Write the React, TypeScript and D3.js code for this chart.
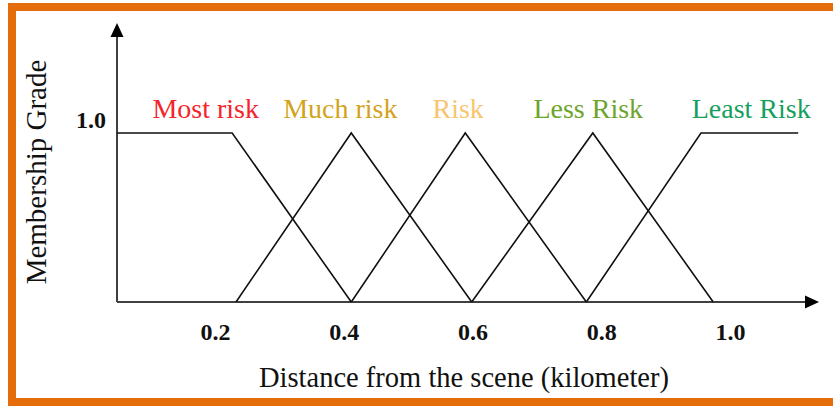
import React from "react";
import * as d3 from "d3";

// Membership functions (x in km, y = membership grade)
const seriesNames = ["Most risk", "Much risk", "Risk", "Less Risk", "Least Risk"];
const seriesColors = ["#f5232a", "#d3a31a", "#f8c56f", "#6da42c", "#17a05d"];
const mostRisk: [number, number][] = [[0.047, 1], [0.226, 1], [0.411, 0]];
const muchRisk: [number, number][] = [[0.232, 0], [0.411, 1], [0.598, 0]];
const risk: [number, number][] = [[0.411, 0], [0.588, 1], [0.776, 0]];
const lessRisk: [number, number][] = [[0.598, 0], [0.786, 1], [0.973, 0]];
const leastRisk: [number, number][] = [[0.776, 0], [0.954, 1], [1.105, 1]];
const labelAt = [0.185, 0.394, 0.577, 0.779, 1.032];
const xTicks = [0.2, 0.4, 0.6, 0.8, 1.0];
const yTicks = [1.0];

const W = 833;
const H = 406;

export default function App() {
  const x = d3.scaleLinear().domain([0, 1]).range([86.6, 730.6]);
  const y = d3.scaleLinear().domain([0, 1]).range([302, 133]);
  const line = d3
    .line<[number, number]>()
    .x((d) => x(d[0]))
    .y((d) => y(d[1]));
  const all = [mostRisk, muchRisk, risk, lessRisk, leastRisk];
  const font = "'Liberation Serif', 'Times New Roman', serif";
  const axisX0 = 117;
  const axisXEnd = 819;
  const axisYTop = 23;
  return (
    <svg
      width={W}
      height={H}
      style={{ position: "absolute", left: 0, top: 0, background: "#fff" }}
      fontFamily={font}
    >
      <rect x={0} y={0} width={W} height={H} fill="#fff" />
      <rect x={12} y={7} width={850} height={395} fill="none" stroke="#e46c0a" strokeWidth={8} />
      {/* axes */}
      <line x1={axisX0} y1={y(0)} x2={axisXEnd - 12} y2={y(0)} stroke="#404040" strokeWidth={2} />
      <path d={`M${axisXEnd},${y(0)} L${axisXEnd - 14},${y(0) - 6.5} L${axisXEnd - 14},${y(0) + 6.5} Z`} fill="#000" />
      <line x1={axisX0} y1={y(0)} x2={axisX0} y2={axisYTop + 12} stroke="#404040" strokeWidth={2} />
      <path d={`M${axisX0},${axisYTop} L${axisX0 - 6.5},${axisYTop + 14} L${axisX0 + 6.5},${axisYTop + 14} Z`} fill="#000" />
      {/* membership lines */}
      {all.map((s, i) => (
        <path key={i} d={line(s) || ""} fill="none" stroke="#111" strokeWidth={1.6} />
      ))}
      {/* series labels */}
      {seriesNames.map((n, i) => (
        <text key={n} x={x(labelAt[i])} y={118} textAnchor="middle" fontSize={28} fill={seriesColors[i]}>
          {n}
        </text>
      ))}
      {/* ticks */}
      {xTicks.map((t) => (
        <text key={t} x={x(t)} y={340} textAnchor="middle" fontSize={24} fontWeight="bold" fill="#111">
          {t.toFixed(1)}
        </text>
      ))}
      {yTicks.map((t) => (
        <text key={t} x={106} y={y(t) - 5} textAnchor="end" fontSize={24} fontWeight="bold" fill="#111">
          {t.toFixed(1)}
        </text>
      ))}
      {/* axis titles */}
      <text x={464} y={387} textAnchor="middle" fontSize={28.5} fill="#111">
        Distance from the scene (kilometer)
      </text>
      <text
        transform={`translate(46,172) rotate(-90)`}
        textAnchor="middle"
        fontSize={29}
        fill="#111"
      >
        Membership Grade
      </text>
    </svg>
  );
}
